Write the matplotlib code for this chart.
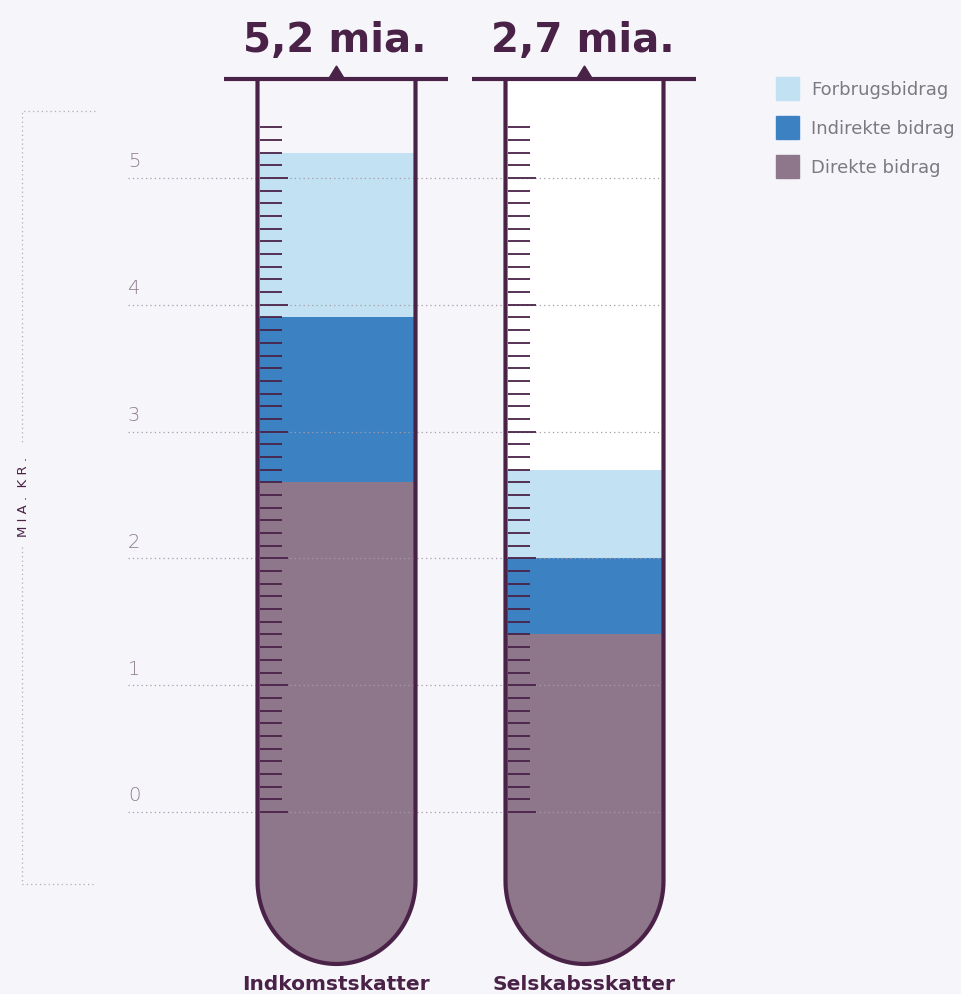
import numpy as np
import matplotlib.pyplot as plt
from matplotlib.path import Path
from matplotlib.patches import PathPatch, Rectangle, Polygon

# data
categories = ["Indkomstskatter", "Selskabsskatter"]
direkte = [2.6, 1.4]
indirekte = [1.3, 0.6]
forbrug = [1.3, 0.7]
total_labels = ["5,2 mia.", "2,7 mia."]
yticks = [0, 1, 2, 3, 4, 5]
series_names = ["Forbrugsbidrag", "Indirekte bidrag", "Direkte bidrag"]

# colours
bg = "#f6f5fa"
dark = "#4a2248"
c_dir = "#8e778a"
c_ind = "#3c82c3"
c_for = "#c2e2f3"
grey_txt = "#8e7d8e"

W, H = 961, 995
ppu = 126.8          # pixels per unit on the y scale
y0px = 813           # pixel row of value 0


def py(p):
    # pixel row -> value
    return (y0px - p) / ppu


fig = plt.figure(figsize=(W / 100, H / 100), dpi=100, facecolor=bg)
ax = fig.add_axes([0, 0, 1, 1])
ax.set_facecolor(bg)
ax.set_xlim(0, W)
ax.set_ylim(py(H), py(0))
ax.axis("off")

centers = [336.5, 584.5]
half = 79
tube_top = py(80)
tube_bot = py(965)
arc_start = py(882)
bar_bottom = tube_bot - 0.05


def tube_path(cx, closed):
    t = np.linspace(np.pi, 2 * np.pi, 60)
    xs = cx + half * np.cos(t)
    ys = arc_start + (arc_start - tube_bot) * np.sin(t)
    verts = [(cx - half, tube_top)] + list(zip(xs, ys)) + [(cx + half, tube_top)]
    codes = [Path.MOVETO] + [Path.LINETO] * (len(verts) - 1)
    if closed:
        verts.append(verts[0])
        codes.append(Path.CLOSEPOLY)
    return Path(verts, codes)


for i, cx in enumerate(centers):
    clip = PathPatch(tube_path(cx, True), facecolor="white" if i == 1 else bg,
                     edgecolor="none", zorder=1)
    ax.add_patch(clip)

    bars = []
    bars.append(ax.bar(cx, direkte[i] - bar_bottom, bottom=bar_bottom,
                       width=2 * half, color=c_dir, zorder=2))
    bars.append(ax.bar(cx, indirekte[i], bottom=direkte[i],
                       width=2 * half, color=c_ind, zorder=2))
    bars.append(ax.bar(cx, forbrug[i], bottom=direkte[i] + indirekte[i],
                       width=2 * half, color=c_for, zorder=2))
    for b in bars:
        for r in b:
            r.set_clip_path(clip)

    # graduation marks
    for v in np.arange(0, 5.45, 0.1):
        major = abs(v - round(v)) < 1e-6
        ln = 30 if major else 24
        ax.plot([cx - half + 2, cx - half + ln], [v, v], color=dark,
                lw=1.3, zorder=4, solid_capstyle="butt")

    # outline
    ax.add_patch(PathPatch(tube_path(cx, False), facecolor="none",
                           edgecolor=dark, lw=3.0, zorder=5))
    # cap line and marker
    ax.plot([cx - 113, cx + 111], [tube_top, tube_top], color=dark, lw=3.0,
            zorder=5, solid_capstyle="butt")
    ax.add_patch(Polygon([(cx - 8, tube_top), (cx + 8, tube_top), (cx, py(67))],
                         closed=True, color=dark, zorder=5))
    ax.text(cx - 2, py(52), total_labels[i], ha="center", va="baseline",
            fontsize=29, fontweight="bold", color=dark, family="DejaVu Sans")
    ax.text(cx - 1, py(995) + 0.005, categories[i], ha="center", va="bottom",
            fontsize=14.5, fontweight="bold", color=dark, family="DejaVu Sans")

# gridlines and value labels
for v in yticks:
    ax.plot([128, 665], [v, v], color="#a89cab", lw=0.9, ls=(0, (1, 2.5)),
            zorder=3)
    ax.text(128, v + 0.06, str(v), ha="left", va="bottom", fontsize=14,
            color=grey_txt, family="DejaVu Sans", fontweight="light")

# unit bracket
bk = dict(color="#b5adb8", lw=0.9, ls=(0, (1, 2.5)), zorder=1)
ax.plot([95, 22, 22], [py(112), py(112), py(445)], **bk)
ax.plot([22, 22, 95], [py(548), py(885), py(885)], **bk)
ax.text(24, py(497), "M I A .  K R .", rotation=90, ha="center", va="center",
        fontsize=9.5, color=dark)

# legend
leg_colors = [c_for, c_ind, c_dir]
for k, (name, col) in enumerate(zip(series_names, leg_colors)):
    top = 78 + 39 * k
    ax.add_patch(Rectangle((776, py(top + 23)), 23, 23 / ppu, color=col,
                           zorder=2))
    ax.text(811, py(top + 11.5), name, ha="left", va="center", fontsize=13,
            color="#7a7a80")

fig.savefig("out.png", dpi=100, facecolor=bg)
